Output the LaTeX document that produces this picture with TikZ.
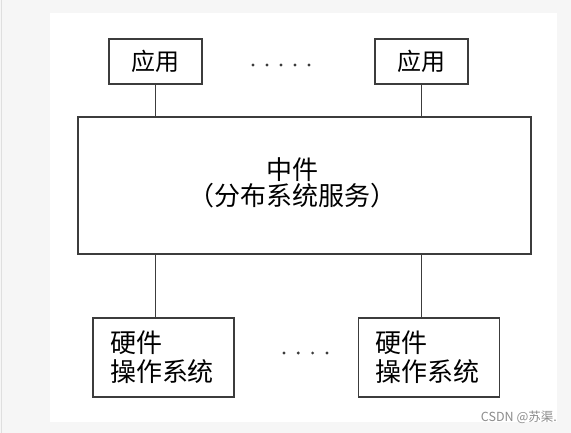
\documentclass[tikz,border=0pt]{standalone}
\usepackage{fontspec}
\setmainfont{Liberation Sans}
\newfontfamily\cjk{Noto Sans CJK SC}
\usepackage{xcolor}
\usetikzlibrary{shapes,arrows,positioning}

\definecolor{pagegray}{HTML}{F6F6F6}
\definecolor{linegray}{HTML}{3C3C3C}
\definecolor{markgray}{HTML}{8C8C8C}

\tikzset{
    blockbox/.style={
        draw=linegray,
        line width=1.5pt,
        fill=white,
        inner sep=0pt,
        font=\cjk\fontsize{24}{29}\selectfont
    },
    osbox/.style={
        blockbox,
        align=left,
        inner xsep=17pt,
        text width=107pt,
        minimum height=79pt,
        font=\cjk\fontsize{26}{29}\selectfont
    },
    wire/.style={draw=linegray, line width=1.5pt}
}

\begin{document}
\begin{tikzpicture}[x=1pt,y=-1pt]
                % page and white panel
                \fill[pagegray] (0,0) rectangle (571,433);
                \useasboundingbox (0,0) rectangle (571,433);
                \draw[line width=0.6pt, gray!25] (1,0) -- (1,433);
                \fill[white] (50,13) rectangle (557,422);

                % applications
                \node[blockbox, minimum width=93pt, minimum height=45pt] (app1) at (155.5,61.5) {应用};
                \node[blockbox, minimum width=93pt, minimum height=45pt] (app2) at (421.5,61.5) {应用};

                % middleware
                \node[blockbox, minimum width=453pt, minimum height=137pt] (mid) at (304.5,185.5) {};
                \node[
                    align=center,
                    inner sep=0pt,
                    font=\cjk\fontsize{26}{26}\selectfont
                ] (midtext) at (292,183) {中件\\（分布系统服务）};

                % hardware and operating systems
                \node[osbox, minimum width=141pt] (os1) at (163.5,357.5) {硬件\\操作系统};
                \node[osbox, minimum width=141pt] (os2) at (429,357.5) {硬件\\操作系统};

                % dots between the boxes
                \foreach \i in {0,...,4}
                    \fill[linegray] (253+14*\i,65) circle (1.6pt);
                \foreach \i in {0,...,3}
                    \fill[linegray] (284+14.3*\i,353) circle (1.6pt);

                % links
                \draw[wire] (app1.south) -- (app1.south |- mid.north);
                \draw[wire] (app2.south) -- (app2.south |- mid.north);
                \draw[wire] (mid.south -| app1.south) -- (os1.north -| app1.south);
                \draw[wire] (mid.south -| app2.south) -- (os2.north -| app2.south);

                % watermark
                \node[
                    anchor=south east,
                    inner sep=0pt,
                    text=markgray,
                    font=\cjk\fontsize{12.5}{13}\selectfont
                ] (mark) at (557,424) {CSDN @苏渠.};
\end{tikzpicture}
\end{document}
